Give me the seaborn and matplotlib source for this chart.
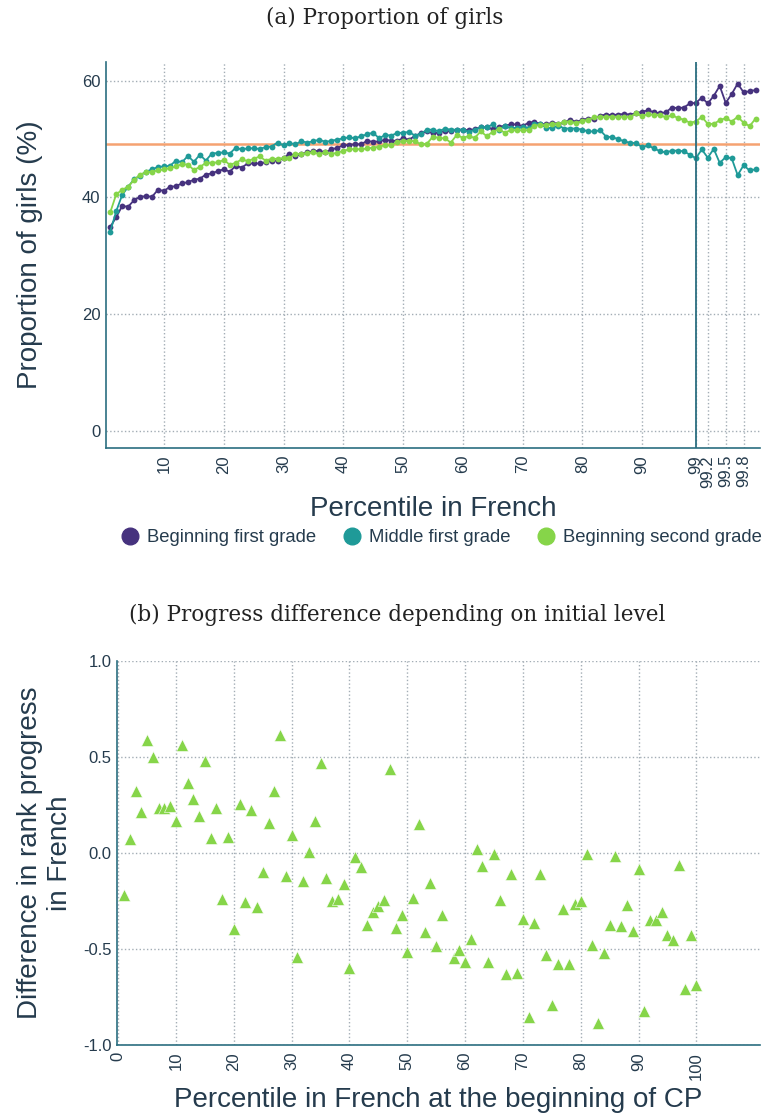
import numpy as np
import pandas as pd
import matplotlib
matplotlib.use("Agg")
import matplotlib.pyplot as plt
from matplotlib.lines import Line2D
import seaborn as sns

# ---------------- data: panel (a) ----------------
percentiles = [float(p) for p in range(1, 100)] + [99.1, 99.2, 99.3, 99.4, 99.5, 99.6, 99.7, 99.8, 99.9, 100.0]
tick_labels_a = ["10", "20", "30", "40", "50", "60", "70", "80", "90", "99", "99.2", "99.5", "99.8"]
tick_values_a = [10.0, 20.0, 30.0, 40.0, 50.0, 60.0, 70.0, 80.0, 90.0, 99.0, 99.2, 99.5, 99.8]

beginning_first = [
    34.9, 36.6, 38.5, 38.4, 39.5, 40.1, 40.2, 40.1, 41.3, 41.1,
    41.8, 41.9, 42.4, 42.6, 43.0, 43.2, 43.9, 44.1, 44.5, 44.8,
    44.4, 45.4, 45.1, 45.8, 45.8, 45.8, 46.0, 46.3, 46.3, 46.7,
    47.5, 47.1, 47.4, 47.7, 47.9, 48.0, 47.7, 48.2, 48.5, 48.9,
    49.0, 49.1, 49.1, 49.7, 49.5, 49.6, 49.9, 49.7, 49.7, 50.1,
    49.9, 50.5, 51.0, 51.3, 51.0, 51.1, 51.4, 51.3, 51.6, 51.6,
    51.5, 51.7, 52.0, 52.0, 51.7, 52.0, 52.3, 52.5, 52.5, 52.2,
    52.8, 52.9, 52.6, 52.5, 52.8, 52.6, 52.9, 53.3, 52.9, 53.3,
    53.5, 53.5, 54.0, 54.2, 54.1, 54.2, 54.3, 54.2, 54.4, 54.7,
    54.9, 54.6, 54.4, 54.6, 55.4, 55.3, 55.4, 56.1, 56.2, 57.1,
    56.1, 57.4, 59.1, 56.2, 57.7, 59.5, 58.0, 58.2, 58.4,
]
middle_first = [
    34.1, 37.6, 40.4, 41.8, 43.1, 43.7, 44.4, 44.8, 45.2, 45.3,
    45.4, 46.3, 46.0, 47.1, 46.1, 47.3, 46.3, 47.5, 47.6, 47.7,
    47.5, 48.5, 48.2, 48.4, 48.4, 48.3, 48.6, 48.7, 49.4, 48.9,
    49.3, 49.1, 49.6, 49.4, 49.6, 49.9, 49.5, 49.7, 49.9, 50.1,
    50.3, 50.1, 50.5, 50.8, 51.1, 50.1, 50.7, 50.6, 51.0, 51.1,
    51.2, 50.6, 50.9, 51.6, 51.6, 51.3, 51.8, 51.6, 51.6, 51.6,
    51.2, 51.6, 52.0, 52.0, 52.5, 51.6, 52.2, 51.9, 51.9, 52.0,
    51.9, 52.5, 52.6, 51.9, 51.9, 52.3, 51.8, 51.8, 51.8, 51.6,
    51.3, 51.3, 51.5, 50.4, 50.3, 50.0, 49.6, 49.35, 49.3, 48.6,
    48.9, 48.4, 47.9, 47.7, 48.0, 48.0, 47.9, 47.3, 46.7, 48.2,
    46.8, 48.3, 45.9, 46.9, 46.7, 43.8, 45.5, 44.6, 44.8,
]
beginning_second = [
    37.4, 40.5, 41.3, 41.8, 43.0, 43.9, 44.3, 44.4, 44.6, 44.8,
    45.0, 45.3, 45.7, 45.6, 44.7, 45.2, 45.9, 45.9, 46.0, 46.4,
    45.6, 45.9, 46.5, 46.2, 46.6, 47.0, 46.3, 46.6, 46.6, 46.7,
    46.7, 47.5, 47.4, 47.6, 47.7, 47.4, 47.7, 47.5, 47.6, 48.0,
    48.2, 48.3, 48.2, 48.4, 48.5, 48.7, 48.9, 48.9, 49.5, 49.6,
    49.7, 49.6, 49.1, 49.2, 50.4, 50.2, 50.1, 49.4, 50.7, 50.2,
    50.5, 50.2, 51.3, 50.5, 51.2, 51.7, 51.1, 51.5, 51.5, 51.5,
    51.5, 52.3, 52.4, 52.4, 52.6, 52.6, 53.0, 53.0, 52.7, 53.1,
    53.3, 53.7, 53.8, 53.8, 53.8, 53.8, 53.8, 53.8, 54.4, 53.9,
    54.3, 54.1, 54.1, 53.7, 54.1, 53.6, 53.3, 52.8, 53.0, 53.8,
    52.6, 52.6, 53.2, 53.6, 53.0, 53.8, 52.8, 52.2, 53.5,
]
series_names = ["Beginning first grade", "Middle first grade", "Beginning second grade"]
overall_share = 49.06
cutoff_percentile = 99.0

# ---------------- data: panel (b) ----------------
pct_b = list(range(1, 101))
rank_diff = [
    -0.22, 0.073, 0.322, 0.214, 0.588, 0.50, 0.235, 0.235, 0.242, 0.166,
    0.562, 0.364, 0.28, 0.19, 0.477, 0.075, 0.233, -0.24, 0.085, -0.395,
    0.256, -0.254, 0.224, -0.284, -0.098, 0.153, 0.322, 0.613, -0.118, 0.094,
    -0.541, -0.145, 0.004, 0.166, 0.47, -0.129, -0.25, -0.242, -0.16, -0.597,
    -0.021, -0.073, -0.374, -0.31, -0.275, -0.247, 0.437, -0.392, -0.326, -0.517,
    -0.237, 0.15, -0.413, -0.157, -0.487, -0.324, np.nan, -0.548, -0.508, -0.569,
    -0.447, 0.02, -0.068, -0.567, -0.007, -0.247, -0.628, -0.111, -0.623, -0.346,
    -0.853, -0.366, -0.111, -0.531, -0.79, -0.578, -0.291, -0.578, -0.266, -0.249,
    -0.005, -0.479, -0.888, -0.522, -0.376, -0.016, -0.381, -0.272, -0.406, -0.082,
    -0.821, -0.351, -0.348, -0.31, -0.43, -0.454, -0.061, -0.708, -0.425, -0.686,
]
xticks_b = [0, 10, 20, 30, 40, 50, 60, 70, 80, 90, 100]
yticks_b = [-1.0, -0.5, 0.0, 0.5, 1.0]

# ---------------- style ----------------
sns.set_theme(style="white")
plt.rcParams["font.family"] = ["Liberation Sans", "DejaVu Sans"]
TXT = "#253b4d"
SPINE = "#2b6e80"
GRID = "#a3adb5"
colors = ["#46327e", "#1f9a98", "#86d549"]
ORANGE = "#f5a271"
SERIF = ["DejaVu Serif"]

fig = plt.figure(figsize=(7.7, 11.2), dpi=100)

pos = np.arange(1, len(percentiles) + 1)
pos_of = {round(p, 1): i for p, i in zip(percentiles, pos)}

ax1 = fig.add_axes([0.1377, 0.600, 0.849, 0.3446])
df = pd.DataFrame({"pos": np.tile(pos, 3),
                   "share": beginning_first + middle_first + beginning_second,
                   "series": np.repeat(series_names, len(pos))})
ax1.axhline(overall_share, color=ORANGE, lw=1.8, zorder=1)
for name, c in zip(series_names, colors):
    sub = df[df["series"] == name]
    sns.lineplot(data=sub, x="pos", y="share", color=c, marker="o", markersize=4.2,
                 markeredgewidth=0, lw=1.3, ax=ax1, legend=False, zorder=3)
ax1.axvline(pos_of[cutoff_percentile], color=SPINE, lw=1.3, zorder=4)
ax1.set_xlim(0.3, 109.7)
ax1.set_ylim(-3, 63.2)
ax1.set_xticks([pos_of[round(v, 1)] for v in tick_values_a])
ax1.set_xticklabels(tick_labels_a, rotation=90, color=TXT, fontsize=12)
ax1.set_yticks([0, 20, 40, 60])
ax1.set_yticklabels(["0", "20", "40", "60"], color=TXT, fontsize=12)
ax1.tick_params(axis="x", length=3, color=TXT, pad=2)
ax1.tick_params(axis="y", length=0, pad=4)
ax1.grid(True, linestyle=":", color=GRID, lw=1)
for s in ["top", "right"]:
    ax1.spines[s].set_visible(False)
for s in ["left", "bottom"]:
    ax1.spines[s].set_color(SPINE)
    ax1.spines[s].set_linewidth(1.2)
ax1.set_xlabel("Percentile in French", fontsize=20, color=TXT)
ax1.set_ylabel("Proportion of girls (%)", fontsize=20, color=TXT)
ax1.xaxis.label.set_va("center")
ax1.yaxis.label.set_va("center")
ax1.xaxis.set_label_coords(0.5, -0.158)
ax1.yaxis.set_label_coords(-0.116, 0.5)

handles = [Line2D([], [], marker="o", linestyle="none", color=c, markersize=12) for c in colors]
fig.legend(handles, series_names, loc="center", bbox_to_anchor=(0.572, 0.520), ncol=3,
           frameon=False, fontsize=13.3, labelcolor=TXT, handletextpad=0.35,
           columnspacing=1.3, handlelength=1.2, borderpad=0)

fig.text(0.5, 0.984, "(a) Proportion of girls", ha="center", va="center",
         family=SERIF, fontsize=15.5, color="#222222")
fig.text(0.516, 0.451, "(b) Progress difference depending on initial level", ha="center", va="center",
         family=SERIF, fontsize=15.5, color="#222222")

# ---------------- panel (b) ----------------
ax2 = fig.add_axes([0.152, 0.067, 0.835, 0.343])
dfb = pd.DataFrame({"pct": pct_b, "diff": rank_diff})
sns.scatterplot(data=dfb, x="pct", y="diff", marker="^", s=75, color=colors[2],
                edgecolor="white", linewidth=0.4, ax=ax2, zorder=3)
ax2.set_xlim(-0.2, 111)
ax2.set_ylim(-1.0, 1.0)
ax2.set_xticks(xticks_b)
ax2.set_xticklabels([str(v) for v in xticks_b], rotation=90, color=TXT, fontsize=12)
ax2.set_yticks(yticks_b)
ax2.set_yticklabels([f"{v:.1f}" for v in yticks_b], color=TXT, fontsize=12)
ax2.tick_params(axis="x", length=3, color=TXT, pad=2)
ax2.tick_params(axis="y", length=0, pad=4)
ax2.grid(True, linestyle=":", color=GRID, lw=1)
for s in ["top", "right"]:
    ax2.spines[s].set_visible(False)
for s in ["left", "bottom"]:
    ax2.spines[s].set_color(SPINE)
    ax2.spines[s].set_linewidth(1.2)
ax2.set_xlabel("Percentile in French at the beginning of CP", fontsize=20, color=TXT)
ax2.set_ylabel("Difference in rank progress\nin French", fontsize=20, color=TXT)
ax2.xaxis.label.set_va("center")
ax2.yaxis.label.set_va("center")
ax2.xaxis.set_label_coords(0.5, -0.143)
ax2.yaxis.set_label_coords(-0.112, 0.5)

fig.savefig("out.png", dpi=100)
